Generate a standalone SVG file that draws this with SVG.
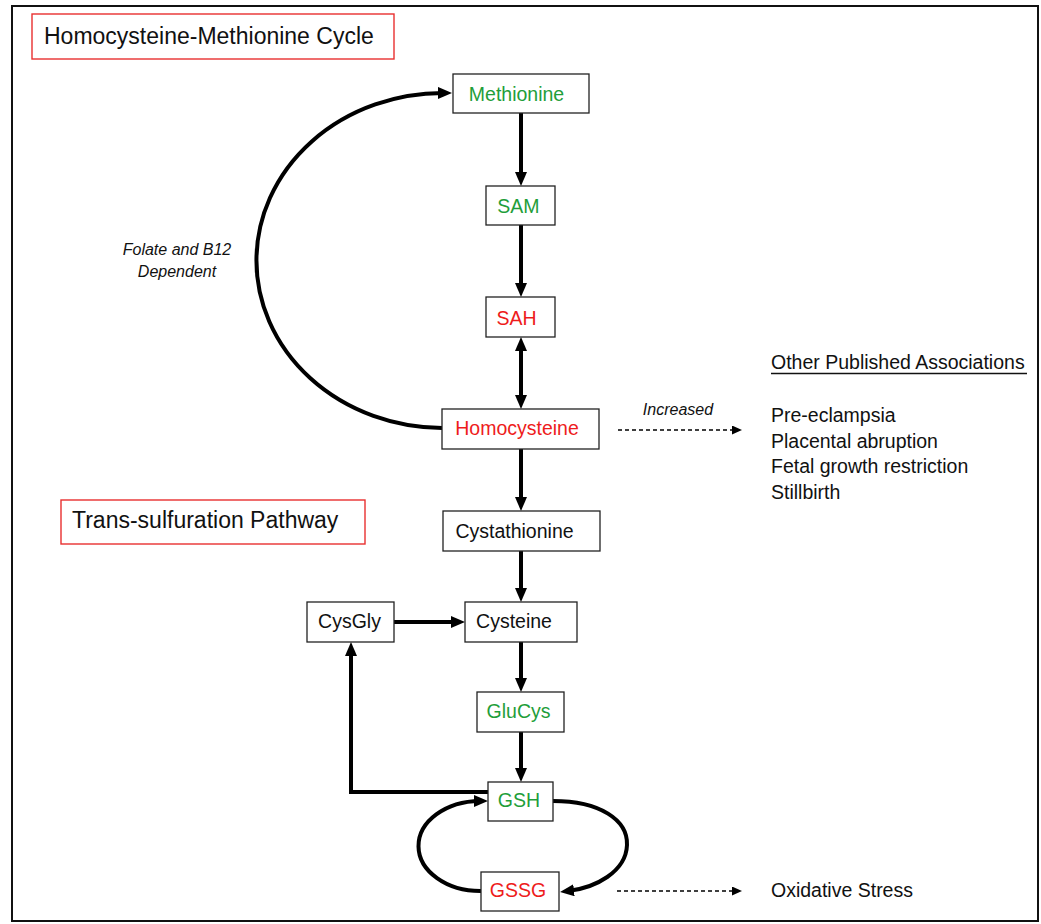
<svg xmlns="http://www.w3.org/2000/svg" width="1041" height="924" viewBox="0 0 1041 924">
<defs>
<style>
text{font-family:"Liberation Sans",Arial,sans-serif;fill:#111}
.node rect{fill:#fff;stroke:#222;stroke-width:1.3}
.nt{font-size:19.5px;text-anchor:middle}
.g{fill:#1f9e3a}
.r{fill:#ee1c1c}
.hdr rect{fill:#fff;stroke:#e8302f;stroke-width:1.4}
.hdr text{font-size:23px}
.it{font-style:italic;font-size:16px}
.lst{font-size:19.5px}
.c{fill:none;stroke:#000;stroke-width:4}
.d{fill:none;stroke:#000;stroke-width:1.4;stroke-dasharray:4 3}
</style>
<marker id="ah" markerUnits="userSpaceOnUse" markerWidth="16" markerHeight="14" refX="6" refY="6" orient="auto-start-reverse">
<path d="M0,0 L14,6 L0,12 z" fill="#000"/>
</marker>
<marker id="ahs" markerUnits="userSpaceOnUse" markerWidth="12" markerHeight="10" refX="2" refY="4.5" orient="auto">
<path d="M0,0 L10,4.5 L0,9 z" fill="#000"/>
</marker>
</defs>
<rect x="12" y="6" width="1026" height="915" fill="#fff" stroke="#111" stroke-width="2"/>

<g id="hdr-cycle" class="hdr"><rect x="32" y="14" width="362" height="45"/><text x="44" y="44">Homocysteine-Methionine Cycle</text></g>
<g id="hdr-trans" class="hdr"><rect x="61" y="500" width="304" height="44"/><text x="72" y="528">Trans-sulfuration Pathway</text></g>

<g id="connectors">
<path class="c" d="M521,113 V178" marker-end="url(#ah)"/>
<path class="c" d="M521,225 V289" marker-end="url(#ah)"/>
<path class="c" d="M521,345 V401" marker-start="url(#ah)" marker-end="url(#ah)"/>
<path class="c" d="M521,449 V503" marker-end="url(#ah)"/>
<path class="c" d="M521,551 V594" marker-end="url(#ah)"/>
<path class="c" d="M394,622 H457" marker-end="url(#ah)"/>
<path class="c" d="M521,642 V684" marker-end="url(#ah)"/>
<path class="c" d="M521,732 V774" marker-end="url(#ah)"/>
<path class="c" d="M488,792 H351 V650" marker-end="url(#ah)"/>
<path class="c" d="M442,428 A186 167 0 0 1 444,93" marker-end="url(#ah)"/>
<path class="c" d="M481,891 A62 45 0 0 1 480,801" marker-end="url(#ah)"/>
<path class="c" d="M553,801 C600,801 628,820 627,845 C626,872 595,888 568,891" marker-end="url(#ah)"/>
<path class="d" d="M618,430 H734" marker-end="url(#ahs)"/>
<path class="d" d="M617,891 H734" marker-end="url(#ahs)"/>
</g>

<g id="methionine" class="node"><rect x="453" y="74" width="136" height="39"/><text class="nt g" x="516.5" y="101">Methionine</text></g>
<g id="sam" class="node"><rect x="486" y="186" width="69" height="39"/><text class="nt g" x="518.5" y="213">SAM</text></g>
<g id="sah" class="node"><rect x="486" y="297" width="69" height="40"/><text class="nt r" x="516.5" y="325">SAH</text></g>
<g id="homocysteine" class="node"><rect x="442" y="409" width="157" height="40"/><text class="nt r" x="517" y="435">Homocysteine</text></g>
<g id="cystathionine" class="node"><rect x="443" y="511" width="157" height="40"/><text class="nt" x="514.5" y="538">Cystathionine</text></g>
<g id="cysgly" class="node"><rect x="307" y="602" width="87" height="40"/><text class="nt" x="349.5" y="628">CysGly</text></g>
<g id="cysteine" class="node"><rect x="465" y="602" width="112" height="40"/><text class="nt" x="514" y="628">Cysteine</text></g>
<g id="glucys" class="node"><rect x="477" y="692" width="87" height="40"/><text class="nt g" x="518.5" y="718">GluCys</text></g>
<g id="gsh" class="node"><rect x="488" y="782" width="65" height="39"/><text class="nt g" x="519" y="807">GSH</text></g>
<g id="gssg" class="node"><rect x="481" y="872" width="78" height="39"/><text class="nt r" x="518" y="897">GSSG</text></g>

<g id="labels">
<text class="it" x="177" y="255" text-anchor="middle">Folate and B12</text>
<text class="it" x="177" y="277" text-anchor="middle">Dependent</text>
<text class="it" x="678" y="415" text-anchor="middle">Increased</text>
</g>

<g id="associations">
<text class="lst" x="771" y="369">Other Published Associations</text>
<line x1="771" y1="373.5" x2="1027" y2="373.5" stroke="#111" stroke-width="1.5"/>
<text class="lst" x="771" y="422">Pre-eclampsia</text>
<text class="lst" x="771" y="447.5">Placental abruption</text>
<text class="lst" x="771" y="473">Fetal growth restriction</text>
<text class="lst" x="771" y="498.5">Stillbirth</text>
</g>
<g id="oxidative"><text class="lst" x="771" y="897">Oxidative Stress</text></g>
</svg>
